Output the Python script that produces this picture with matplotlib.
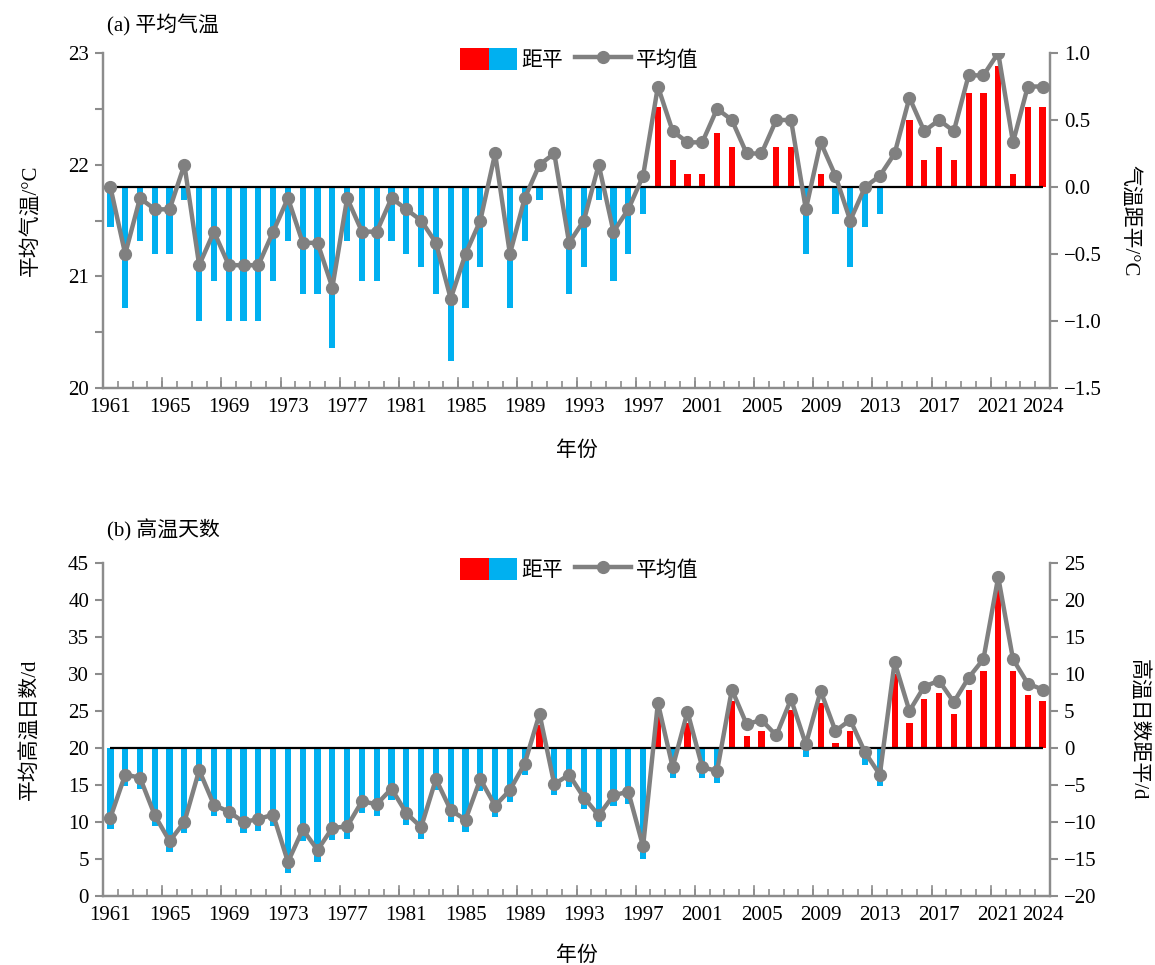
import numpy as np
import matplotlib.pyplot as plt
from matplotlib.patches import Patch
from matplotlib.lines import Line2D
from matplotlib.legend_handler import HandlerTuple
from matplotlib.ticker import MultipleLocator, FixedLocator, FuncFormatter

plt.rcParams['font.family'] = ['Liberation Serif', 'Noto Sans CJK SC']
plt.rcParams['axes.unicode_minus'] = True

# data
years = list(range(1961, 2025))

temp_mean = [21.8, 21.2, 21.7, 21.6, 21.6, 22.0, 21.1, 21.4, 21.1, 21.1,
             21.1, 21.4, 21.7, 21.3, 21.3, 20.9, 21.7, 21.4, 21.4, 21.7,
             21.6, 21.5, 21.3, 20.8, 21.2, 21.5, 22.1, 21.2, 21.7, 22.0,
             22.1, 21.3, 21.5, 22.0, 21.4, 21.6, 21.9, 22.7, 22.3, 22.2,
             22.2, 22.5, 22.4, 22.1, 22.1, 22.4, 22.4, 21.6, 22.2, 21.9,
             21.5, 21.8, 21.9, 22.1, 22.6, 22.3, 22.4, 22.3, 22.8, 22.8,
             23.0, 22.2, 22.7, 22.7]
temp_anom = [-0.3, -0.9, -0.4, -0.5, -0.5, -0.1, -1.0, -0.7, -1.0, -1.0,
             -1.0, -0.7, -0.4, -0.8, -0.8, -1.2, -0.4, -0.7, -0.7, -0.4,
             -0.5, -0.6, -0.8, -1.3, -0.9, -0.6, 0.0, -0.9, -0.4, -0.1,
             0.0, -0.8, -0.6, -0.1, -0.7, -0.5, -0.2, 0.6, 0.2, 0.1,
             0.1, 0.4, 0.3, 0.0, 0.0, 0.3, 0.3, -0.5, 0.1, -0.2,
             -0.6, -0.3, -0.2, 0.0, 0.5, 0.2, 0.3, 0.2, 0.7, 0.7,
             0.9, 0.1, 0.6, 0.6]

hot_mean = [10.6, 16.4, 16.0, 10.9, 7.4, 10.0, 17.0, 12.3, 11.4, 10.0,
            10.4, 11.0, 4.6, 9.0, 6.2, 9.2, 9.4, 12.8, 12.4, 14.5,
            11.2, 9.3, 15.8, 11.6, 10.3, 15.8, 12.2, 14.3, 17.9, 24.6,
            15.1, 16.4, 13.3, 10.9, 13.6, 14.1, 6.7, 26.1, 17.4, 24.9,
            17.4, 16.9, 27.9, 23.2, 23.8, 21.7, 26.6, 20.5, 27.7, 22.3,
            23.8, 19.4, 16.4, 31.6, 25.0, 28.3, 29.1, 26.2, 29.5, 32.0,
            43.1, 32.0, 28.7, 27.9]
hot_anom = [-11.0, -5.2, -5.5, -10.6, -14.1, -11.5, -4.4, -9.2, -10.1, -11.5,
            -11.2, -10.5, -16.9, -12.5, -15.4, -12.4, -12.3, -8.8, -9.2, -7.0,
            -10.4, -12.3, -5.7, -10.0, -11.4, -5.8, -9.3, -7.3, -3.6, 3.1,
            -6.4, -5.3, -8.3, -10.7, -7.9, -7.5, -15.0, 4.5, -4.1, 3.4,
            -4.1, -4.7, 6.3, 1.6, 2.3, 0.2, 5.1, -1.2, 6.1, 0.7,
            2.3, -2.3, -5.2, 10.0, 3.4, 6.6, 7.5, 4.6, 7.9, 10.4,
            21.5, 10.4, 7.1, 6.3]

year_labels = [y for y in years if (y - 1961) % 4 == 0] + [2024]

RED = '#FF0000'
BLUE = '#00B0F0'
GRAY = '#808080'
AXC = '#8C8C8C'
FS = 15


def minus_fmt(fmt):
    return FuncFormatter(lambda v, p: (fmt % v).replace('-', '\u2212'))


def draw_panel(rect, mean, anom, left_lim, left_step, right_lim, right_step,
               left_minor, left_fmt, right_fmt, left_label, right_label,
               title, title_y, xlabel_y, rlabel_x):
    ax1 = fig.add_axes(rect)
    ax2 = ax1.twinx()

    colors = [RED if a > 0 else BLUE for a in anom]
    ax2.bar(years, anom, width=0.42, color=colors, zorder=2)
    ax2.hlines(0, years[0], years[-1], color='black', lw=1.6, zorder=3)

    ax1.plot(years, mean, color=GRAY, lw=3.2, marker='o', ms=8.5, zorder=4)
    ax1.set_zorder(ax2.get_zorder() + 1)
    ax1.patch.set_visible(False)

    ax1.set_xlim(1960.5, 2024.5)
    ax1.set_ylim(*left_lim)
    ax2.set_ylim(*right_lim)

    ax1.yaxis.set_major_locator(MultipleLocator(left_step))
    if left_minor:
        ax1.yaxis.set_minor_locator(MultipleLocator(left_minor))
    ax1.yaxis.set_major_formatter(minus_fmt(left_fmt))
    ax2.yaxis.set_major_locator(MultipleLocator(right_step))
    ax2.yaxis.set_major_formatter(minus_fmt(right_fmt))

    # category-style x axis
    ax1.xaxis.set_major_locator(FixedLocator(year_labels))
    ax1.set_xticklabels([str(y) for y in year_labels])
    ax1.xaxis.set_minor_locator(FixedLocator([y - 0.5 for y in years] + [2024.5]))
    ax1.tick_params(axis='x', which='major', length=0, pad=7, labelsize=FS)
    ax1.tick_params(axis='x', which='minor', direction='in', length=5,
                    width=1.2, color=AXC)
    # taller boundary ticks every 4 years
    for y in year_labels[:-1]:
        ax1.axvline(y - 0.5, ymin=0, ymax=10 / 335, color=AXC, lw=1.2,
                    zorder=1, clip_on=False)

    ax1.tick_params(axis='y', which='both', direction='out', length=6,
                    width=1.5, color=AXC, labelsize=FS, pad=4)
    ax2.tick_params(axis='y', which='both', direction='out', length=6,
                    width=1.5, color=AXC, labelsize=FS, pad=4)

    for ax in (ax1, ax2):
        ax.spines['top'].set_visible(False)
        for s in ('left', 'right', 'bottom'):
            ax.spines[s].set_color(AXC)
            ax.spines[s].set_linewidth(1.6)

    ax1.set_ylabel(left_label, fontsize=FS)
    ax1.yaxis.set_label_coords(-0.066, 0.5)
    ax2.set_ylabel(right_label, fontsize=FS, rotation=270)
    ax2.yaxis.set_label_coords(rlabel_x, 0.5)
    ax1.set_xlabel('年份', fontsize=FS)
    ax1.xaxis.set_label_coords(0.5, xlabel_y)

    bar_handle = (Patch(facecolor=RED, edgecolor='none'),
                  Patch(facecolor=BLUE, edgecolor='none'))
    line_handle = Line2D([], [], color=GRAY, lw=3.2, marker='o', ms=8.5)
    ax1.legend([bar_handle, line_handle], ['距平', '平均值'],
               handler_map={tuple: HandlerTuple(ndivide=None, pad=0)},
               loc='center', bbox_to_anchor=(0.503, 0.98), ncol=2,
               frameon=False, fontsize=FS, handlelength=2.7,
               handleheight=1.2, handletextpad=0.2, columnspacing=0.6)

    fig.text(107 / 1155, 1 - title_y / 965, title, fontsize=FS,
             ha='left', va='center')
    return ax1, ax2


fig = plt.figure(figsize=(11.55, 9.65), dpi=100)

draw_panel([103 / 1155, 1 - 388 / 965, 947 / 1155, 335 / 965],
           temp_mean, temp_anom, (20, 23), 1, (-1.5, 1.0), 0.5, 0.5,
           '%.0f', '%.1f', '平均气温/°C', '气温距平/°C',
           '(a) 平均气温', 25, -0.158, 1.095)

draw_panel([103 / 1155, 1 - 896 / 965, 947 / 1155, 333 / 965],
           hot_mean, hot_anom, (0, 45), 5, (-20, 25), 5, None,
           '%.0f', '%.0f', '平均高温日数/d', '高温日数距平/d',
           '(b) 高温天数', 530, -0.15, 1.102)

fig.savefig('out.png', dpi=100)
